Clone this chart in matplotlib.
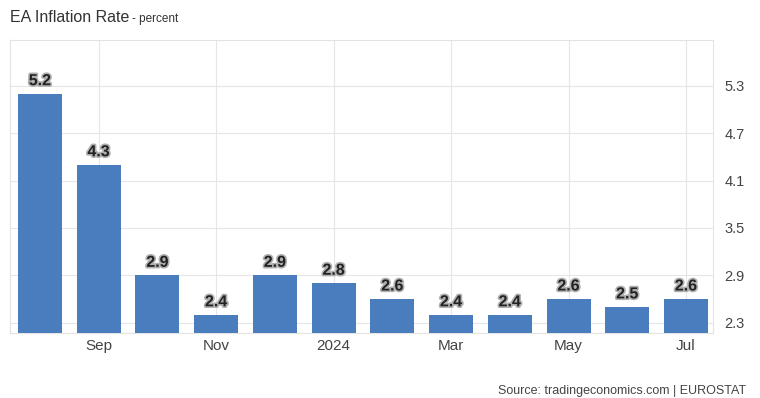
import matplotlib.pyplot as plt
import matplotlib.patheffects as pe
import numpy as np

plt.rcParams["font.family"] = ["Liberation Sans", "DejaVu Sans"]

months = ["Aug", "Sep", "Oct", "Nov", "Dec", "2024", "Feb", "Mar", "Apr", "May", "Jun", "Jul"]
values = [5.2, 4.3, 2.9, 2.4, 2.9, 2.8, 2.6, 2.4, 2.4, 2.6, 2.5, 2.6]
yticks = [2.3, 2.9, 3.5, 4.1, 4.7, 5.3]

BAR_COLOR = "#4a7dbd"
GRID_COLOR = "#e6e6e6"

fig = plt.figure(figsize=(7.6, 3.98), dpi=100)
ax = fig.add_axes([0.0132, 0.1633, 0.925, 0.7362])

x = np.arange(len(values))
ax.bar(x, values, width=0.75, color=BAR_COLOR, zorder=3)

# value labels with outline
for xi, v in zip(x, values):
    ax.text(xi, v + 0.07, f"{v:.1f}", ha="center", va="bottom", fontsize=11.5,
            fontweight="bold", color="#222222", zorder=4,
            path_effects=[pe.withStroke(linewidth=2.4, foreground="#b0b0b0")])

ax.set_xlim(-0.51, 11.46)
ax.set_ylim(2.17, 5.88)

# every other month labelled
ax.set_xticks(x[1::2])
ax.set_xticklabels(months[1::2])
ax.set_yticks(yticks)
ax.set_yticklabels([f"{t:.1f}" for t in yticks])
ax.yaxis.tick_right()
ax.tick_params(axis="x", length=0, labelsize=11, labelcolor="#444444", pad=4)
ax.tick_params(axis="y", length=0, labelsize=10.5, labelcolor="#444444", pad=8)

ax.grid(True, color=GRID_COLOR, linewidth=0.8, zorder=0)
for s in ax.spines.values():
    s.set_color("#e3e3e3")
    s.set_linewidth(0.8)

title = fig.text(0.0132, 0.955, "EA Inflation Rate", fontsize=11.5, color="#333333", va="center")
fig.canvas.draw()
fig.text(title.get_window_extent().x1 / fig.bbox.width + 0.004, 0.953, "- percent",
         fontsize=8.5, color="#333333", va="center")
fig.text(0.982, 0.003, "Source: tradingeconomics.com | EUROSTAT", fontsize=9,
         color="#444444", ha="right", va="bottom")

fig.savefig("out.png", dpi=100)
